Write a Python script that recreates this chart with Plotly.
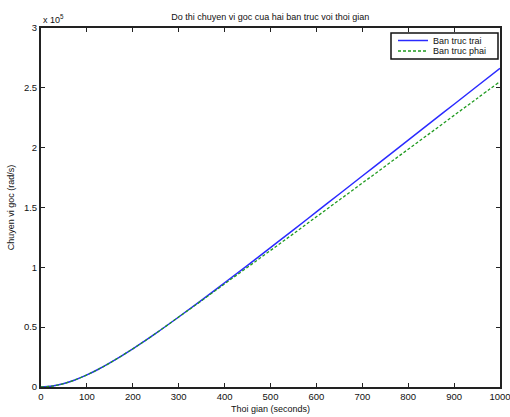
import plotly.graph_objects as go

# time (s)
t = [0, 25, 50, 75, 100, 125, 150, 200, 250, 300, 350, 400, 450, 500, 550, 600,
     650, 700, 750, 800, 850, 900, 950, 1000]
# angular displacement, units of 1e5 rad
left_shaft = [0, 0.0077, 0.029, 0.061, 0.101, 0.148, 0.201, 0.319, 0.448, 0.585,
              0.726, 0.871, 1.017, 1.165, 1.313, 1.463, 1.613, 1.763, 1.913, 2.063,
              2.213, 2.363, 2.513, 2.663]
right_shaft = [0, 0.0077, 0.029, 0.061, 0.101, 0.148, 0.201, 0.319, 0.448, 0.585,
               0.722, 0.862, 1.001, 1.141, 1.281, 1.422, 1.563, 1.704, 1.845, 1.987,
               2.128, 2.270, 2.411, 2.553]
series_names = ["Ban truc trai", "Ban truc phai"]
x_ticks = [0, 100, 200, 300, 400, 500, 600, 700, 800, 900, 1000]
y_ticks = [0, 0.5, 1, 1.5, 2, 2.5, 3]
y_tick_labels = ["0", "0.5", "1", "1.5", "2", "2.5", "3"]

FONT = "Liberation Sans, Arial, sans-serif"
BLUE = "#2a2aff"
GREEN = "#1f9a1f"

fig = go.Figure()
fig.add_trace(go.Scatter(x=t, y=left_shaft, mode="lines", name=series_names[0],
                         line=dict(color=BLUE, width=1.5, shape="spline")))
fig.add_trace(go.Scatter(x=t, y=right_shaft, mode="lines", name=series_names[1],
                         line=dict(color=GREEN, width=1.3, dash="3px,2px", shape="spline")))

axis_common = dict(showgrid=False, zeroline=False, showline=True, linecolor="#222",
                   linewidth=2, mirror="ticks", ticks="inside", ticklen=4,
                   tickcolor="#222", tickwidth=1, automargin=False,
                   ticklabeloverflow="allow",
                   tickfont=dict(family=FONT, size=9.5, color="#111"))

fig.update_layout(
    width=510, height=417,
    margin=dict(l=41, r=10, t=28, b=30, autoexpand=False),
    paper_bgcolor="white", plot_bgcolor="white",
    title=dict(text="Do thi chuyen vi goc cua hai ban truc voi thoi gian",
               x=0.53, xanchor="center", y=0.96, yanchor="middle",
               font=dict(family=FONT, size=9, color="#111")),
    xaxis=dict(range=[0, 1000], tickvals=x_ticks,
               title=dict(text="Thoi gian (seconds)", standoff=4,
                          font=dict(family=FONT, size=9, color="#111")),
               **axis_common),
    yaxis=dict(range=[0, 3], tickvals=y_ticks, ticktext=y_tick_labels,
               title=dict(text="Chuyen vi goc (rad/s)", standoff=8,
                          font=dict(family=FONT, size=9, color="#111")),
               **axis_common),
    showlegend=False,
)
fig.add_annotation(text="x 10<sup>5</sup>", xref="paper", yref="paper",
                   x=0, y=1, xanchor="left", yanchor="bottom", yshift=1,
                   showarrow=False, font=dict(family=FONT, size=9, color="#111"))

# legend box (drawn manually for MATLAB-like compactness)
L, W, TOP, H = 41, 459, 28, 359
px = lambda v: (v - L) / W
py = lambda v: (TOP + H - v) / H
fig.add_shape(type="rect", xref="paper", yref="paper",
              x0=px(391), x1=px(498), y0=py(59), y1=py(33),
              line=dict(color="#111", width=1.5), fillcolor="white", layer="above")
for i, (name, col, dash) in enumerate([(series_names[0], BLUE, "solid"),
                                        (series_names[1], GREEN, "3px,2px")]):
    yy = 40.5 + i * 10.5
    fig.add_shape(type="line", xref="paper", yref="paper",
                  x0=px(398), x1=px(428), y0=py(yy), y1=py(yy),
                  line=dict(color=col, width=1.5, dash=dash), layer="above")
    fig.add_annotation(text=name, xref="paper", yref="paper",
                       x=px(431), y=py(yy), xanchor="left", yanchor="middle",
                       showarrow=False,
                       font=dict(family=FONT, size=9, color="#111"))

fig.write_html("out.html")
